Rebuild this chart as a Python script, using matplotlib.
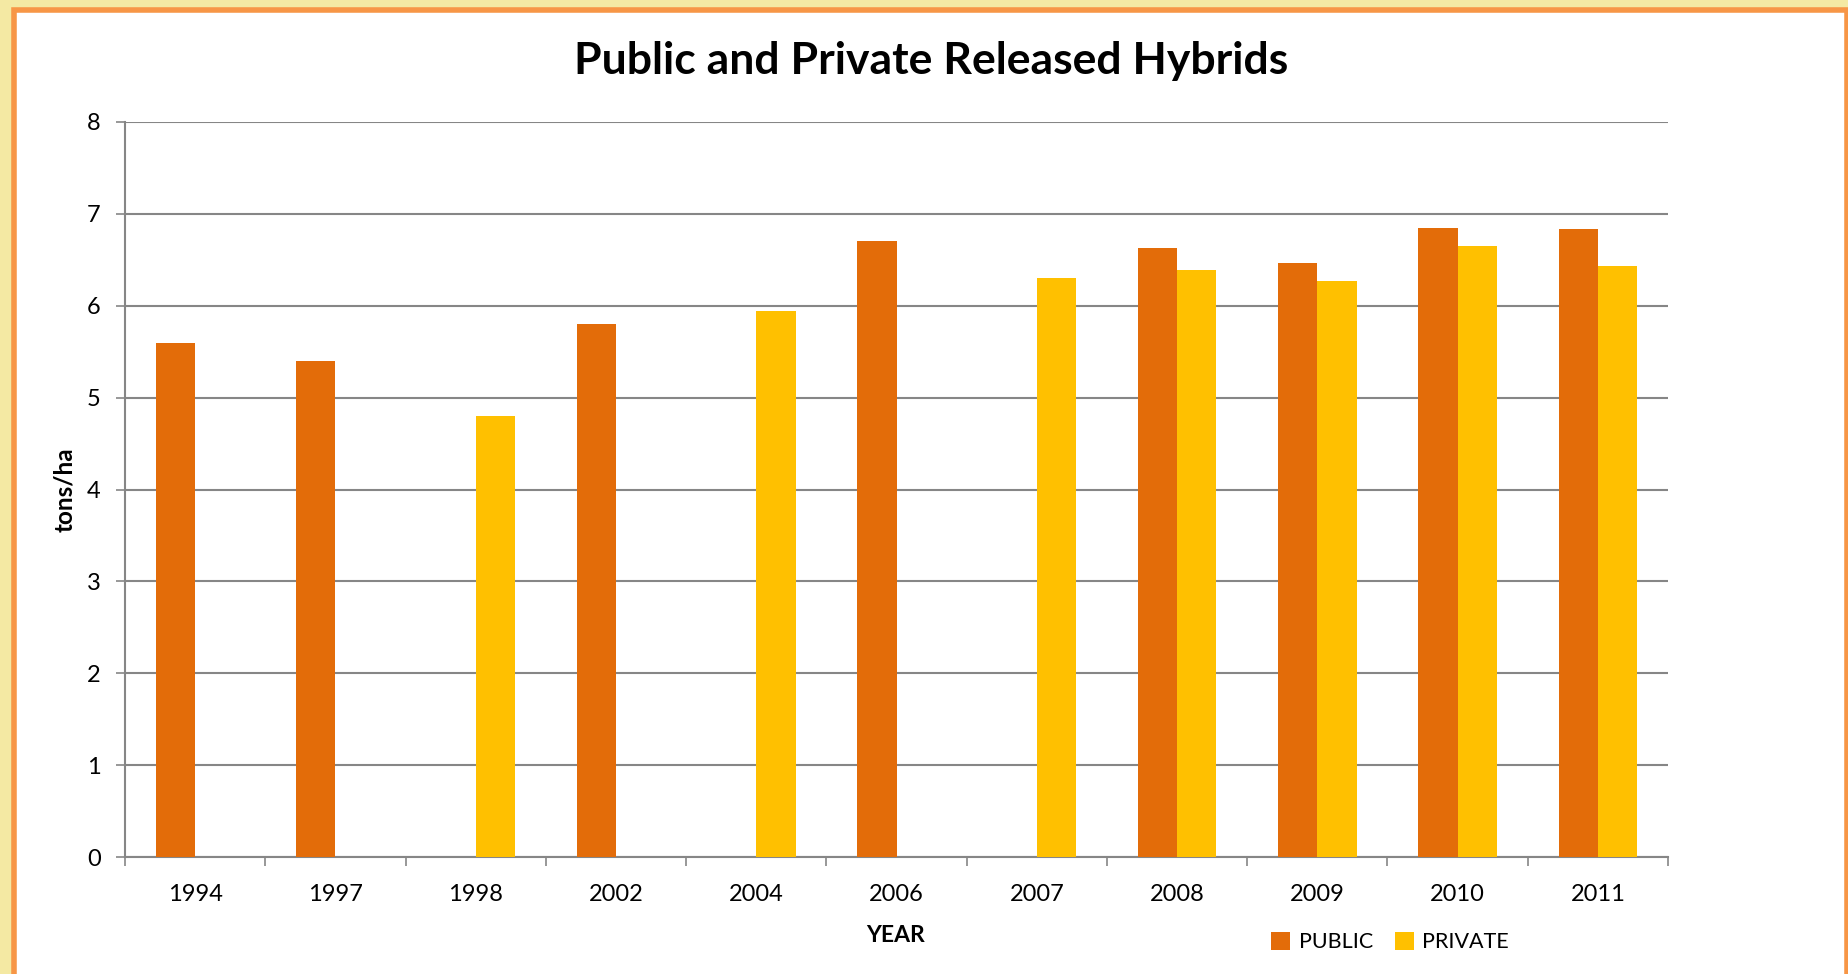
import numpy as np
import matplotlib.pyplot as plt
from matplotlib.patches import Rectangle

years = ["1994", "1997", "1998", "2002", "2004", "2006", "2007",
         "2008", "2009", "2010", "2011"]
public = [5.6, 5.4, np.nan, 5.8, np.nan, 6.7, np.nan, 6.63, 6.47, 6.85, 6.84]
private = [np.nan, np.nan, 4.8, np.nan, 5.94, np.nan, 6.3, 6.39, 6.27, 6.65, 6.43]

c_public = "#E36C09"
c_private = "#FFC000"
grid_c = "#868686"

plt.rcParams["font.family"] = ["Lato", "DejaVu Sans"]

W, H = 1849, 974
fig = plt.figure(figsize=(W / 100, H / 100), dpi=100)
fig.patch.set_facecolor("#F4E9A3")

# white slide panel with orange frame, kept behind the axes
panel = Rectangle((14.5 / W, -0.05), (1847.5 - 14.5) / W, (H - 9.5) / H + 0.05,
                  transform=fig.transFigure, facecolor="white",
                  edgecolor="#F79646", linewidth=4.0, zorder=-10)
fig.patches.append(panel)

x0, x1, y0, y1 = 125, 1668, 122, 857   # plot area in pixels
ax = fig.add_axes([x0 / W, (H - y1) / H, (x1 - x0) / W, (y1 - y0) / H])
ax.set_facecolor("none")

x = np.arange(len(years))
bw = 0.28
ax.bar(x - bw / 2, public, bw, color=c_public, label="PUBLIC", zorder=3)
ax.bar(x + bw / 2, private, bw, color=c_private, label="PRIVATE", zorder=3)

ax.set_xlim(-0.5, len(years) - 0.5)
ax.set_ylim(0, 8)
ax.set_yticks(range(0, 9))
ax.yaxis.grid(True, color=grid_c, linewidth=1.5, zorder=1)
ax.set_axisbelow(True)

for s in ["top", "right"]:
    ax.spines[s].set_visible(False)
for s in ["left", "bottom"]:
    ax.spines[s].set_color(grid_c)
    ax.spines[s].set_linewidth(1.5)

ax.set_xticks(x)
ax.set_xticklabels(years)
ax.set_xticks(np.arange(-0.5, len(years)), minor=True)
ax.tick_params(axis="x", which="major", length=0, pad=19.5, labelsize=17)
ax.tick_params(axis="x", which="minor", length=6.5, width=1.2, color=grid_c)
ax.tick_params(axis="y", length=6.5, width=1.2, color=grid_c, pad=11, labelsize=17)

ax.set_ylabel("tons/ha", fontsize=17.5, fontweight="bold", va="center")
ax.yaxis.set_label_coords((65 - x0) / (x1 - x0), (y1 - 490) / (y1 - y0))
ax.set_xlabel("YEAR", fontsize=16.5, fontweight="bold", va="center")
ax.xaxis.set_label_coords((896 - x0) / (x1 - x0), -(935 - y1) / (y1 - y0))

fig.text(931 / W, 1 - 61 / H, "Public and Private Released Hybrids",
         ha="center", va="center", fontsize=32, fontweight="bold")

fig.legend(loc="center", bbox_to_anchor=(1390 / W, 1 - 942 / H), ncol=2,
           frameon=False, fontsize=15.5, handlelength=0.9, handleheight=0.9,
           handletextpad=0.4, columnspacing=1.0)

fig.savefig("out.png", dpi=100, facecolor=fig.get_facecolor())
